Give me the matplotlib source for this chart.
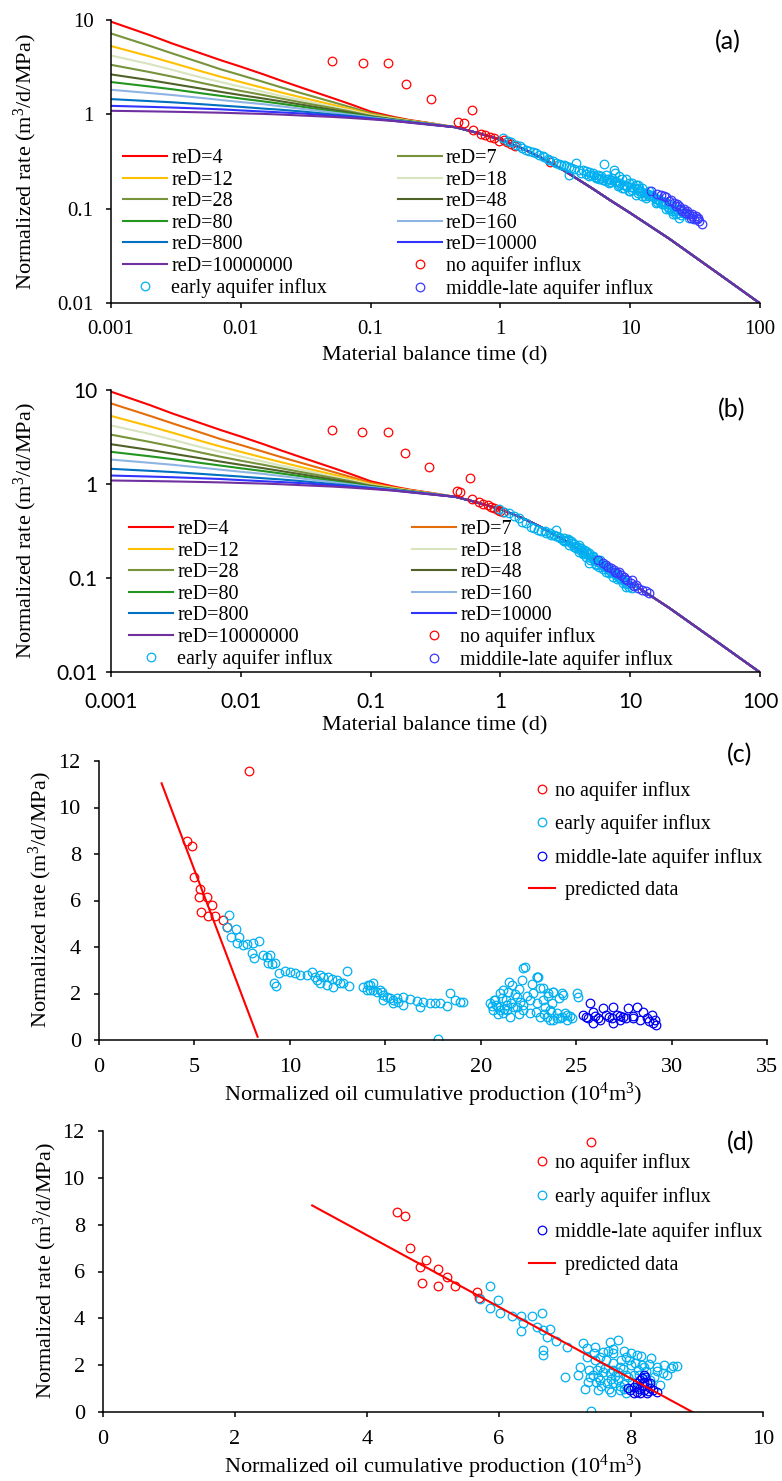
import matplotlib
matplotlib.use('Agg')
import matplotlib.pyplot as plt
from matplotlib.lines import Line2D

plt.rcParams['font.family'] = 'Liberation Serif'
plt.rcParams['mathtext.fontset'] = 'custom'
plt.rcParams['mathtext.rm'] = 'Liberation Serif'
plt.rcParams['mathtext.it'] = 'Liberation Serif:italic'

SANS = 'Lato'
W, H = 782, 1481

# ---- type curves (a), (b) ----
reD_labels = ['reD=4', 'reD=7', 'reD=12', 'reD=18', 'reD=28', 'reD=48',
              'reD=80', 'reD=160', 'reD=800', 'reD=10000', 'reD=10000000']
t_early = [0.001, 0.002, 0.003, 0.005, 0.007, 0.01, 0.015, 0.02, 0.03, 0.05, 0.07, 0.1, 0.15, 0.2, 0.3]
q_reD4 = [9.6, 6.9, 5.6, 4.4, 3.75, 3.2, 2.65, 2.3, 1.9, 1.5, 1.28, 1.07, 0.94, 0.87, 0.8]
q_reD7 = [7.2, 5.3, 4.4, 3.5, 3.0, 2.6, 2.2, 1.95, 1.66, 1.36, 1.19, 1.03, 0.92, 0.86, 0.795]
q_reD12 = [5.3, 4.1, 3.5, 2.85, 2.5, 2.2, 1.9, 1.72, 1.5, 1.27, 1.14, 1.0, 0.91, 0.855, 0.79]
q_reD18 = [4.2, 3.4, 2.95, 2.45, 2.2, 1.96, 1.73, 1.58, 1.41, 1.21, 1.1, 0.98, 0.9, 0.85, 0.79]
q_reD28 = [3.35, 2.8, 2.5, 2.15, 1.95, 1.77, 1.6, 1.48, 1.33, 1.17, 1.07, 0.965, 0.89, 0.845, 0.785]
q_reD48 = [2.65, 2.3, 2.1, 1.87, 1.73, 1.6, 1.47, 1.38, 1.26, 1.12, 1.04, 0.95, 0.88, 0.84, 0.785]
q_reD80 = [2.2, 1.97, 1.84, 1.67, 1.57, 1.47, 1.37, 1.3, 1.2, 1.08, 1.01, 0.94, 0.875, 0.835, 0.78]
q_reD160 = [1.82, 1.68, 1.6, 1.49, 1.42, 1.35, 1.28, 1.22, 1.14, 1.05, 0.99, 0.93, 0.87, 0.83, 0.78]
q_reD800 = [1.45, 1.38, 1.34, 1.28, 1.24, 1.2, 1.15, 1.12, 1.07, 1.0, 0.96, 0.91, 0.86, 0.825, 0.775]
q_reD10000 = [1.23, 1.2, 1.18, 1.15, 1.13, 1.1, 1.07, 1.05, 1.02, 0.97, 0.94, 0.9, 0.855, 0.82, 0.775]
q_reD1e7 = [1.09, 1.075, 1.065, 1.05, 1.04, 1.025, 1.01, 0.995, 0.97, 0.94, 0.915, 0.885, 0.85, 0.815, 0.77]
early_curves = [q_reD4, q_reD7, q_reD12, q_reD18, q_reD28, q_reD48,
                q_reD80, q_reD160, q_reD800, q_reD10000, q_reD1e7]
# shared late-time stem
t_stem = [0.45, 0.6, 0.8, 1, 1.5, 2, 3, 5, 7, 10, 20, 50, 100]
q_stem = [0.73, 0.66, 0.59, 0.54, 0.43, 0.355, 0.26, 0.167, 0.123, 0.09, 0.048, 0.0196, 0.0099]

colors_a = ['#FF0000', '#77933C', '#FFC000', '#D7E4BD', '#77933C', '#4F6228',
            '#22961E', '#8DB4E2', '#0070C0', '#3333FF', '#7030A0']
colors_b = ['#FF0000', '#E46C0A', '#FFC000', '#D7E4BD', '#77933C', '#4F6228',
            '#22961E', '#8DB4E2', '#0070C0', '#3333FF', '#7030A0']

# ---- measured points, (a) ----
a_red = [(0.05, 3.64), (0.087, 3.49), (0.136, 3.49), (0.186, 2.09), (0.29, 1.45),
         (0.605, 1.1), (0.475, 0.83), (0.52, 0.81), (0.62, 0.69), (0.71, 0.62),
         (0.76, 0.60), (0.83, 0.575), (0.9, 0.56), (0.97, 0.52), (1.06, 0.54),
         (1.13, 0.51), (1.21, 0.48), (1.29, 0.46), (2.4, 0.31)]
a_cyan = [(1.04, 0.56), (1.14, 0.526), (1.21, 0.511), (1.32, 0.477), (1.41, 0.458),
          (1.48, 0.44), (1.57, 0.423), (1.65, 0.412), (1.77, 0.40), (1.87, 0.388),
          (2.0, 0.374), (2.12, 0.363), (2.18, 0.35), (2.31, 0.34), (2.38, 0.331),
          (2.52, 0.318), (2.68, 0.305), (2.83, 0.298), (2.93, 0.293), (3.1, 0.289),
          (3.2, 0.282), (3.38, 0.276), (3.49, 0.27), (3.38, 0.23), (3.82, 0.305),
          (3.7, 0.266), (4.05, 0.26), (4.3, 0.254), (4.56, 0.249), (4.83, 0.245),
          (5.13, 0.239), (5.3, 0.23), (5.6, 0.23), (5.95, 0.221), (6.3, 0.298),
          (7.5, 0.26), (7.7, 0.239), (5.77, 0.204), (6.5, 0.195), (6.9, 0.208),
          (7.3, 0.212), (7.7, 0.195), (8.2, 0.221), (8.7, 0.204), (9.25, 0.204),
          (9.8, 0.188), (10.4, 0.188), (11.0, 0.18), (11.4, 0.18), (11.7, 0.166),
          (12.4, 0.166), (9.8, 0.153), (8.7, 0.166), (11.0, 0.141), (13.2, 0.147),
          (14.0, 0.136), (14.8, 0.136), (15.7, 0.128), (16.7, 0.125), (17.7, 0.121),
          (18.8, 0.115), (20, 0.111), (21.1, 0.106), (22.4, 0.1), (23.8, 0.098),
          (25.3, 0.09), (26.8, 0.087), (23.8, 0.08), (28.4, 0.08), (22.4, 0.087),
          (20, 0.098), (17.7, 0.111), (15.7, 0.115), (12.4, 0.136), (10.4, 0.159),
          (8.2, 0.18), (4.83, 0.221), (6.5, 0.23), (6.9, 0.188), (9.25, 0.173),
          (13.2, 0.13), (21.1, 0.094), (11.7, 0.153), (5.45, 0.212), (14.0, 0.153),
          (4.2, 0.24), (4.6, 0.235), (5.0, 0.225), (5.5, 0.215), (6.0, 0.21),
          (6.6, 0.205), (7.1, 0.2), (7.8, 0.19), (8.4, 0.185), (9.0, 0.18),
          (9.5, 0.175), (10.1, 0.17), (10.7, 0.165), (11.3, 0.16), (12.0, 0.155),
          (12.8, 0.148), (13.6, 0.142), (14.4, 0.14), (15.2, 0.132), (16.2, 0.128),
          (17.0, 0.118), (18.2, 0.112), (19.4, 0.105), (20.6, 0.1), (22.0, 0.094),
          (23.2, 0.09), (24.5, 0.085), (6.2, 0.2), (7.0, 0.19), (8.0, 0.175),
          (9.0, 0.165), (10.0, 0.155), (11.5, 0.145), (13, 0.135), (16, 0.118),
          (19, 0.1), (21.5, 0.088)]
a_blue = [(14.4, 0.153), (16.2, 0.144), (17.2, 0.139), (18.3, 0.136), (20, 0.122),
          (21.8, 0.115), (23.1, 0.111), (23.8, 0.106), (26, 0.098), (27.6, 0.094),
          (28.4, 0.087), (30.1, 0.088), (31.9, 0.083), (33, 0.08), (33.9, 0.074),
          (36, 0.068), (26.8, 0.09), (24.5, 0.1), (29.2, 0.08), (31, 0.077),
          (20.5, 0.125), (18.8, 0.133), (22.5, 0.108), (25.2, 0.095), (27.0, 0.089),
          (29.8, 0.083), (32.5, 0.078)]

# ---- measured points, (b) ----
b_red = [(0.05, 3.8), (0.086, 3.6), (0.136, 3.55), (0.183, 2.15), (0.28, 1.5),
         (0.58, 1.15), (0.46, 0.85), (0.49, 0.82), (0.6, 0.70), (0.68, 0.65),
         (0.73, 0.62), (0.8, 0.6), (0.85, 0.57), (0.9, 0.55), (0.96, 0.53),
         (1.0, 0.52), (1.05, 0.5)]
b_cyan = [(0.98, 0.538), (1.07, 0.508), (1.17, 0.488), (1.28, 0.457), (1.4, 0.431),
          (1.48, 0.397), (1.57, 0.382), (1.72, 0.352), (1.82, 0.338), (1.94, 0.324),
          (2.05, 0.319), (2.24, 0.304), (2.45, 0.287), (2.68, 0.324), (2.84, 0.275),
          (3.1, 0.264), (3.29, 0.254), (3.6, 0.234), (3.93, 0.215), (4.17, 0.207),
          (4.42, 0.199), (4.83, 0.183), (5.13, 0.169), (5.44, 0.156), (5.77, 0.149),
          (6.12, 0.138), (6.49, 0.132), (6.89, 0.122), (7.31, 0.117), (7.75, 0.108),
          (8.22, 0.099), (8.73, 0.095), (9.25, 0.088), (9.8, 0.081), (10.4, 0.078),
          (4.83, 0.143), (5.44, 0.138), (4.05, 0.191), (3.39, 0.224), (3.01, 0.254),
          (4.56, 0.169), (6.49, 0.117), (7.31, 0.103), (9.25, 0.081), (3.8, 0.207),
          (4.3, 0.183), (5.77, 0.132), (5.3, 0.156), (2.6, 0.29), (3.5, 0.245),
          (2.2, 0.32), (2.4, 0.3), (2.9, 0.265), (3.2, 0.25), (3.5, 0.235),
          (3.8, 0.22), (4.1, 0.2), (4.4, 0.19), (4.7, 0.178), (5.0, 0.165),
          (5.3, 0.16), (5.6, 0.147), (6.0, 0.142), (6.3, 0.13), (6.7, 0.125),
          (7.1, 0.115), (7.6, 0.11), (8.0, 0.104), (8.5, 0.098), (9.0, 0.092),
          (9.5, 0.086), (3.1, 0.245), (3.7, 0.213), (4.3, 0.178), (4.9, 0.157),
          (5.5, 0.14), (6.2, 0.125), (6.9, 0.113), (7.9, 0.098), (8.8, 0.088),
          (4.0, 0.226), (4.6, 0.195), (5.2, 0.17), (5.9, 0.155), (2.7, 0.28),
          (3.3, 0.26)]
b_blue = [(5.6, 0.156), (6.12, 0.143), (6.49, 0.138), (7.1, 0.127), (7.52, 0.122),
          (7.98, 0.112), (8.47, 0.108), (8.98, 0.102), (9.53, 0.095), (10.1, 0.089),
          (10.7, 0.082), (11.4, 0.078), (12.4, 0.074), (13.2, 0.072), (14.0, 0.069),
          (10.4, 0.095), (8.22, 0.117), (6.8, 0.13), (7.7, 0.115), (9.2, 0.097),
          (11.0, 0.085)]

# ---- (c) rate vs normalized cumulative production ----
c_red = [(4.63, 8.57), (4.86, 8.34), (4.99, 7.02), (5.29, 6.49), (5.24, 6.14),
         (5.67, 6.14), (5.9, 5.81), (5.34, 5.52), (5.73, 5.33), (6.08, 5.33),
         (6.48, 5.16), (6.69, 4.85), (7.87, 11.55)]
c_cyan = [(6.83, 5.38), (6.69, 4.85), (6.9, 4.44), (7.18, 4.79), (7.35, 4.42),
          (7.21, 4.19), (7.56, 4.09), (7.77, 4.13), (8.08, 4.19), (8.4, 4.27),
          (8.01, 3.73), (8.12, 3.51), (8.61, 3.66), (8.78, 3.58), (8.96, 3.66),
          (8.87, 3.33), (9.05, 3.27), (9.22, 3.3), (9.17, 2.44), (9.27, 2.32),
          (9.45, 2.9), (9.74, 2.98), (10.0, 2.94), (10.27, 2.9), (10.53, 2.8),
          (10.88, 2.8), (11.14, 2.94), (11.31, 2.7), (11.58, 2.8), (11.75, 2.72),
          (12.01, 2.72), (12.19, 2.61), (12.45, 2.58), (12.62, 2.47), (12.98, 2.98),
          (13.11, 2.32), (11.58, 2.47), (11.93, 2.37), (12.27, 2.29), (11.4, 2.58),
          (12.8, 2.47), (13.85, 2.29), (14.02, 2.15), (14.2, 2.37), (14.37, 2.15),
          (14.55, 2.08), (14.72, 2.15), (14.9, 1.94), (15.07, 1.86), (15.24, 1.79),
          (15.42, 1.72), (15.68, 1.65), (14.11, 2.37), (14.37, 2.44), (14.2, 2.15),
          (14.81, 2.08), (15.59, 1.79), (15.94, 1.84), (16.29, 1.75), (16.64, 1.69),
          (16.99, 1.65), (17.34, 1.61), (17.6, 1.58), (17.86, 1.58), (18.21, 1.46),
          (18.39, 2.01), (18.65, 1.72), (18.91, 1.65), (19.09, 1.65), (15.94, 1.51),
          (16.82, 1.43), (15.42, 1.58), (14.89, 1.72), (17.77, 0.03),
          (20.48, 1.58), (20.74, 1.72), (21.01, 2.01), (21.18, 2.15), (21.44, 2.08),
          (21.62, 2.37), (21.88, 1.86), (22.05, 1.65), (21.7, 1.43), (22.32, 3.15),
          (22.14, 2.58), (22.93, 2.72), (22.75, 2.01), (23.1, 2.22), (23.27, 1.72),
          (23.54, 2.01), (23.8, 2.08), (24.32, 1.94), (23.36, 1.43), (23.63, 1.29),
          (23.98, 1.15), (24.24, 1.0), (24.5, 0.86), (22.93, 1.58), (22.58, 1.15),
          (23.1, 1.0), (23.63, 0.86), (21.18, 1.15), (20.92, 1.43), (20.66, 1.29),
          (21.36, 1.51), (22.23, 1.29), (21.53, 1.0), (23.71, 1.58), (23.45, 1.0),
          (23.8, 0.86), (24.15, 0.93), (24.5, 1.08), (24.76, 0.93), (25.02, 2.01),
          (25.11, 1.86), (24.24, 2.01), (23.8, 2.08), (23.27, 2.22), (23.01, 2.72),
          (22.23, 3.08), (22.93, 2.7), (20.8, 1.5), (21.0, 1.3), (21.3, 1.7),
          (21.9, 1.4), (22.4, 1.9), (22.0, 1.1), (20.6, 1.45), (20.7, 1.7),
          (21.1, 1.8), (21.4, 1.3), (21.6, 1.6), (21.8, 2.0), (22.2, 1.5),
          (22.6, 1.7), (22.9, 1.2), (23.3, 1.1), (23.7, 1.2), (24.0, 0.95),
          (24.4, 1.15), (24.7, 1.05), (22.0, 2.2), (21.5, 2.5), (20.9, 1.1),
          (23.5, 1.9), (24.1, 1.8), (22.7, 2.4), (21.2, 1.35)]
c_blue = [(25.37, 1.08), (25.63, 0.93), (25.72, 1.58), (25.9, 1.22), (26.16, 0.93),
          (26.42, 1.36), (26.59, 1.08), (26.86, 0.93), (26.94, 1.43), (27.12, 1.08),
          (27.29, 0.86), (27.47, 1.0), (27.73, 1.36), (27.99, 0.93), (28.17, 1.43),
          (28.34, 0.86), (28.51, 1.22), (28.69, 0.93), (28.95, 1.08), (29.13, 0.86),
          (29.21, 0.65), (29.04, 0.72), (25.9, 0.72), (26.94, 0.72), (26.24, 0.86),
          (25.5, 1.0), (26.0, 1.05), (26.7, 1.0), (27.6, 0.95), (28.0, 1.05),
          (28.8, 0.8), (27.3, 1.05)]
c_pred_x = [3.28, 8.31]
c_pred_y = [11.04, 0.14]

# ---- (d) ----
d_red = [(4.45, 8.56), (4.58, 8.38), (4.65, 7.02), (4.9, 6.5), (4.81, 6.18),
         (5.08, 6.1), (4.84, 5.53), (5.08, 5.36), (5.21, 5.78), (5.33, 5.36),
         (5.66, 5.14), (5.7, 4.86), (7.39, 11.55)]
d_cyan = [(5.71, 4.81), (5.86, 5.38), (5.99, 4.79), (5.86, 4.43), (6.02, 4.24),
          (6.19, 4.1), (6.34, 4.1), (6.5, 4.1), (6.65, 4.24), (6.37, 3.79),
          (6.34, 3.48), (6.57, 3.62), (6.67, 3.5), (6.77, 3.53), (6.72, 3.22),
          (6.87, 3.05), (6.67, 2.44), (6.67, 2.65), (7.03, 2.79), (7.28, 2.93),
          (7.33, 2.72), (7.45, 2.79), (7.68, 3.01), (7.81, 3.08), (7.53, 2.36),
          (7.73, 2.51), (7.93, 2.36), (8.09, 2.44), (7.33, 2.36), (7.0, 1.51),
          (7.38, 1.51), (7.53, 1.37), (7.73, 1.23), (7.83, 0.94), (8.04, 1.58),
          (8.19, 1.94), (8.39, 1.94), (8.64, 1.97), (8.44, 1.15), (8.29, 1.37),
          (7.68, 1.65), (7.48, 1.79), (7.83, 1.94), (7.23, 1.94), (7.4, 0.06),
          (7.93, 0.8), (8.09, 1.08), (8.49, 1.65), (7.73, 2.08), (7.63, 1.23),
          (7.53, 1.94), (7.5, 1.5), (7.6, 1.9), (7.7, 1.4), (7.8, 1.7), (7.9, 1.2),
          (8.0, 2.0), (7.45, 2.2), (7.65, 2.6), (7.85, 2.2), (8.1, 1.8), (8.3, 2.3),
          (8.5, 2.0), (7.95, 1.5), (7.55, 1.1), (7.35, 1.3), (7.42, 1.6),
          (7.47, 1.3), (7.58, 1.7), (7.62, 2.2), (7.67, 1.0), (7.72, 1.8),
          (7.76, 1.55), (7.8, 1.35), (7.84, 1.1), (7.88, 1.85), (7.92, 1.6),
          (7.97, 2.2), (8.02, 1.3), (8.06, 2.1), (8.12, 1.6), (8.16, 2.0),
          (8.22, 1.75), (8.27, 2.05), (8.35, 1.5), (8.4, 1.75), (8.55, 1.6),
          (8.6, 1.9), (8.7, 1.95), (7.36, 1.8), (7.44, 2.5), (7.58, 2.55),
          (7.72, 2.7), (7.9, 2.6), (8.0, 2.5), (8.15, 2.4), (7.2, 1.6),
          (7.3, 1.0), (7.5, 0.95), (7.7, 0.85), (7.9, 1.0)]
d_blue = [(7.98, 0.94), (8.04, 1.08), (8.09, 1.23), (8.14, 1.37), (8.19, 1.58),
          (8.21, 1.51), (8.24, 1.23), (8.29, 1.01), (8.34, 0.94), (8.39, 0.87),
          (8.19, 0.94), (8.14, 0.8), (8.09, 0.87), (8.24, 0.8), (8.04, 0.8),
          (7.96, 1.01), (8.19, 1.3), (8.29, 1.23), (8.2, 1.1), (8.12, 1.0),
          (8.26, 0.9), (8.17, 1.45)]
d_pred_x = [3.17, 8.93]
d_pred_y = [8.82, 0.0]

RED, CYAN = '#FF0000', '#00B0F0'
BLUE_AB, BLUE_CD = '#3838FF', '#0000F0'

fig = plt.figure(figsize=(W / 100, H / 100), dpi=100)


def px_axes(left, top, right, bottom):
    return fig.add_axes([left / W, 1 - bottom / H, (right - left) / W, (bottom - top) / H])


def style(ax, tick_family, tick_size, xpad, ypad):
    for s in ['top', 'right']:
        ax.spines[s].set_visible(False)
    for s in ['left', 'bottom']:
        ax.spines[s].set_linewidth(1.1)
    ax.tick_params(direction='out', length=3.6, width=1.1, labelsize=tick_size)
    ax.tick_params(axis='x', pad=xpad)
    ax.tick_params(axis='y', pad=ypad)
    for lab in ax.get_xticklabels() + ax.get_yticklabels():
        lab.set_family(tick_family)


def circles(ax, pts, color):
    xs = [p[0] for p in pts]
    ys = [p[1] for p in pts]
    ax.plot(xs, ys, ls='none', marker='o', mfc='none', mec=color, ms=6.2, mew=0.9)


def circle_handle(color):
    return Line2D([], [], ls='none', marker='o', mfc='none', mec=color, ms=6.2, mew=0.9)


def fig_text(x, y, s, **kw):
    fig.text(x / W, 1 - y / H, s, ha='center', va='center', **kw)


log_ticks = [0.001, 0.01, 0.1, 1, 10, 100]
log_ticklabels = ['0.001', '0.01', '0.1', '1', '10', '100']
q_ticks = [0.01, 0.1, 1, 10]
q_ticklabels = ['0.01', '0.1', '1', '10']


def type_curve_panel(ax, colors, red, cyan, blue, blue_col, late_label,
                     tick_family, tick_size, xpad, ypad, leg_xy, colspace):
    handles = []
    for qe, col, lab in zip(early_curves, colors, reD_labels):
        h, = ax.plot(t_early + t_stem, qe + q_stem, color=col, lw=1.5, label=lab)
        handles.append(h)
    circles(ax, red, RED)
    circles(ax, cyan, CYAN)
    circles(ax, blue, blue_col)
    ax.set_xscale('log')
    ax.set_yscale('log')
    ax.set_xlim(0.001, 100)
    ax.set_ylim(0.01, 10)
    ax.set_xticks(log_ticks)
    ax.set_xticklabels(log_ticklabels)
    ax.set_yticks(q_ticks)
    ax.set_yticklabels(q_ticklabels)
    ax.minorticks_off()
    style(ax, tick_family, tick_size, xpad, ypad)
    h_no, h_early, h_late = circle_handle(RED), circle_handle(CYAN), circle_handle(blue_col)
    col1 = [handles[0], handles[2], handles[4], handles[6], handles[8], handles[10], h_early]
    col2 = [handles[1], handles[3], handles[5], handles[7], handles[9], h_no, h_late]
    lab1 = [reD_labels[i] for i in (0, 2, 4, 6, 8, 10)] + ['early aquifer influx']
    lab2 = [reD_labels[i] for i in (1, 3, 5, 7, 9)] + ['no aquifer influx', late_label]
    ax.legend(col1 + col2, lab1 + lab2, ncol=2, loc='upper left',
              bbox_to_anchor=(leg_xy[0] / W, 1 - leg_xy[1] / H), bbox_transform=fig.transFigure,
              frameon=False, borderpad=0, borderaxespad=0, handlelength=2.2,
              handletextpad=0.2, labelspacing=0.12, columnspacing=colspace,
              prop={'family': 'Liberation Serif', 'size': 14.5})


ylab = 'Normalized rate (m$^{3}$/d/MPa)'
xlab_t = 'Material balance time (d)'
xlab_np = 'Normalized oil cumulative production (10$^{4}$m$^{3}$)'

# (a)
ax_a = px_axes(111, 20, 760, 303)
type_curve_panel(ax_a, colors_a, a_red, a_cyan, a_blue, BLUE_AB, 'middle-late aquifer influx',
                 'Liberation Serif', 15, 9, 9, (123, 149), 3.5)
fig_text(25, 162, ylab, rotation=90, size=16)
fig_text(435, 356, xlab_t, size=16)
fig_text(728, 42, '(a)', family=SANS, size=18)

# (b)
ax_b = px_axes(111, 390, 760, 672)
type_curve_panel(ax_b, colors_b, b_red, b_cyan, b_blue, BLUE_AB, 'middile-late aquifer influx',
                 SANS, 15, 11, 6, (129, 520), 3.9)
fig_text(25, 531, ylab, rotation=90, size=16)
fig_text(435, 726, xlab_t, size=16)
fig_text(732, 410, '(b)', family=SANS, size=18)


def np_panel(ax, red, cyan, blue, px, py, xmax, xstep, leg_xy, lspace):
    circles(ax, red, RED)
    circles(ax, cyan, CYAN)
    circles(ax, blue, BLUE_CD)
    line, = ax.plot(px, py, color=RED, lw=1.5)
    ax.set_xlim(0, xmax)
    ax.set_ylim(0, 12)
    ax.set_xticks(range(0, xmax + 1, xstep))
    ax.set_yticks(range(0, 13, 2))
    style(ax, 'Liberation Serif', 16, 9, 9.5)
    hs = [circle_handle(RED), circle_handle(CYAN), circle_handle(BLUE_CD), line]
    labs = ['no aquifer influx', 'early aquifer influx', 'middle-late aquifer influx',
            '  predicted data']
    ax.legend(hs, labs, loc='upper left',
              bbox_to_anchor=(leg_xy[0] / W, 1 - leg_xy[1] / H), bbox_transform=fig.transFigure,
              frameon=False, borderpad=0, borderaxespad=0, handlelength=1.3,
              handletextpad=0.0, labelspacing=lspace,
              prop={'family': 'Liberation Serif', 'size': 14.5})


# (c)
ax_c = px_axes(99, 761, 767, 1040)
np_panel(ax_c, c_red, c_cyan, c_blue, c_pred_x, c_pred_y, 35, 5, (529, 781), 0.67)
fig_text(40, 900, ylab, rotation=90, size=16)
fig_text(433, 1095, xlab_np, size=16)
fig_text(740, 755, '(c)', family=SANS, size=18)

# (d)
ax_d = px_axes(103, 1131, 763, 1412)
np_panel(ax_d, d_red, d_cyan, d_blue, d_pred_x, d_pred_y, 10, 2, (529, 1153), 0.72)
fig_text(45, 1271, ylab, rotation=90, size=16)
fig_text(433, 1467, xlab_np, size=16)
fig_text(741, 1143, '(d)', family=SANS, size=18)

fig.savefig('out.png', dpi=100)
